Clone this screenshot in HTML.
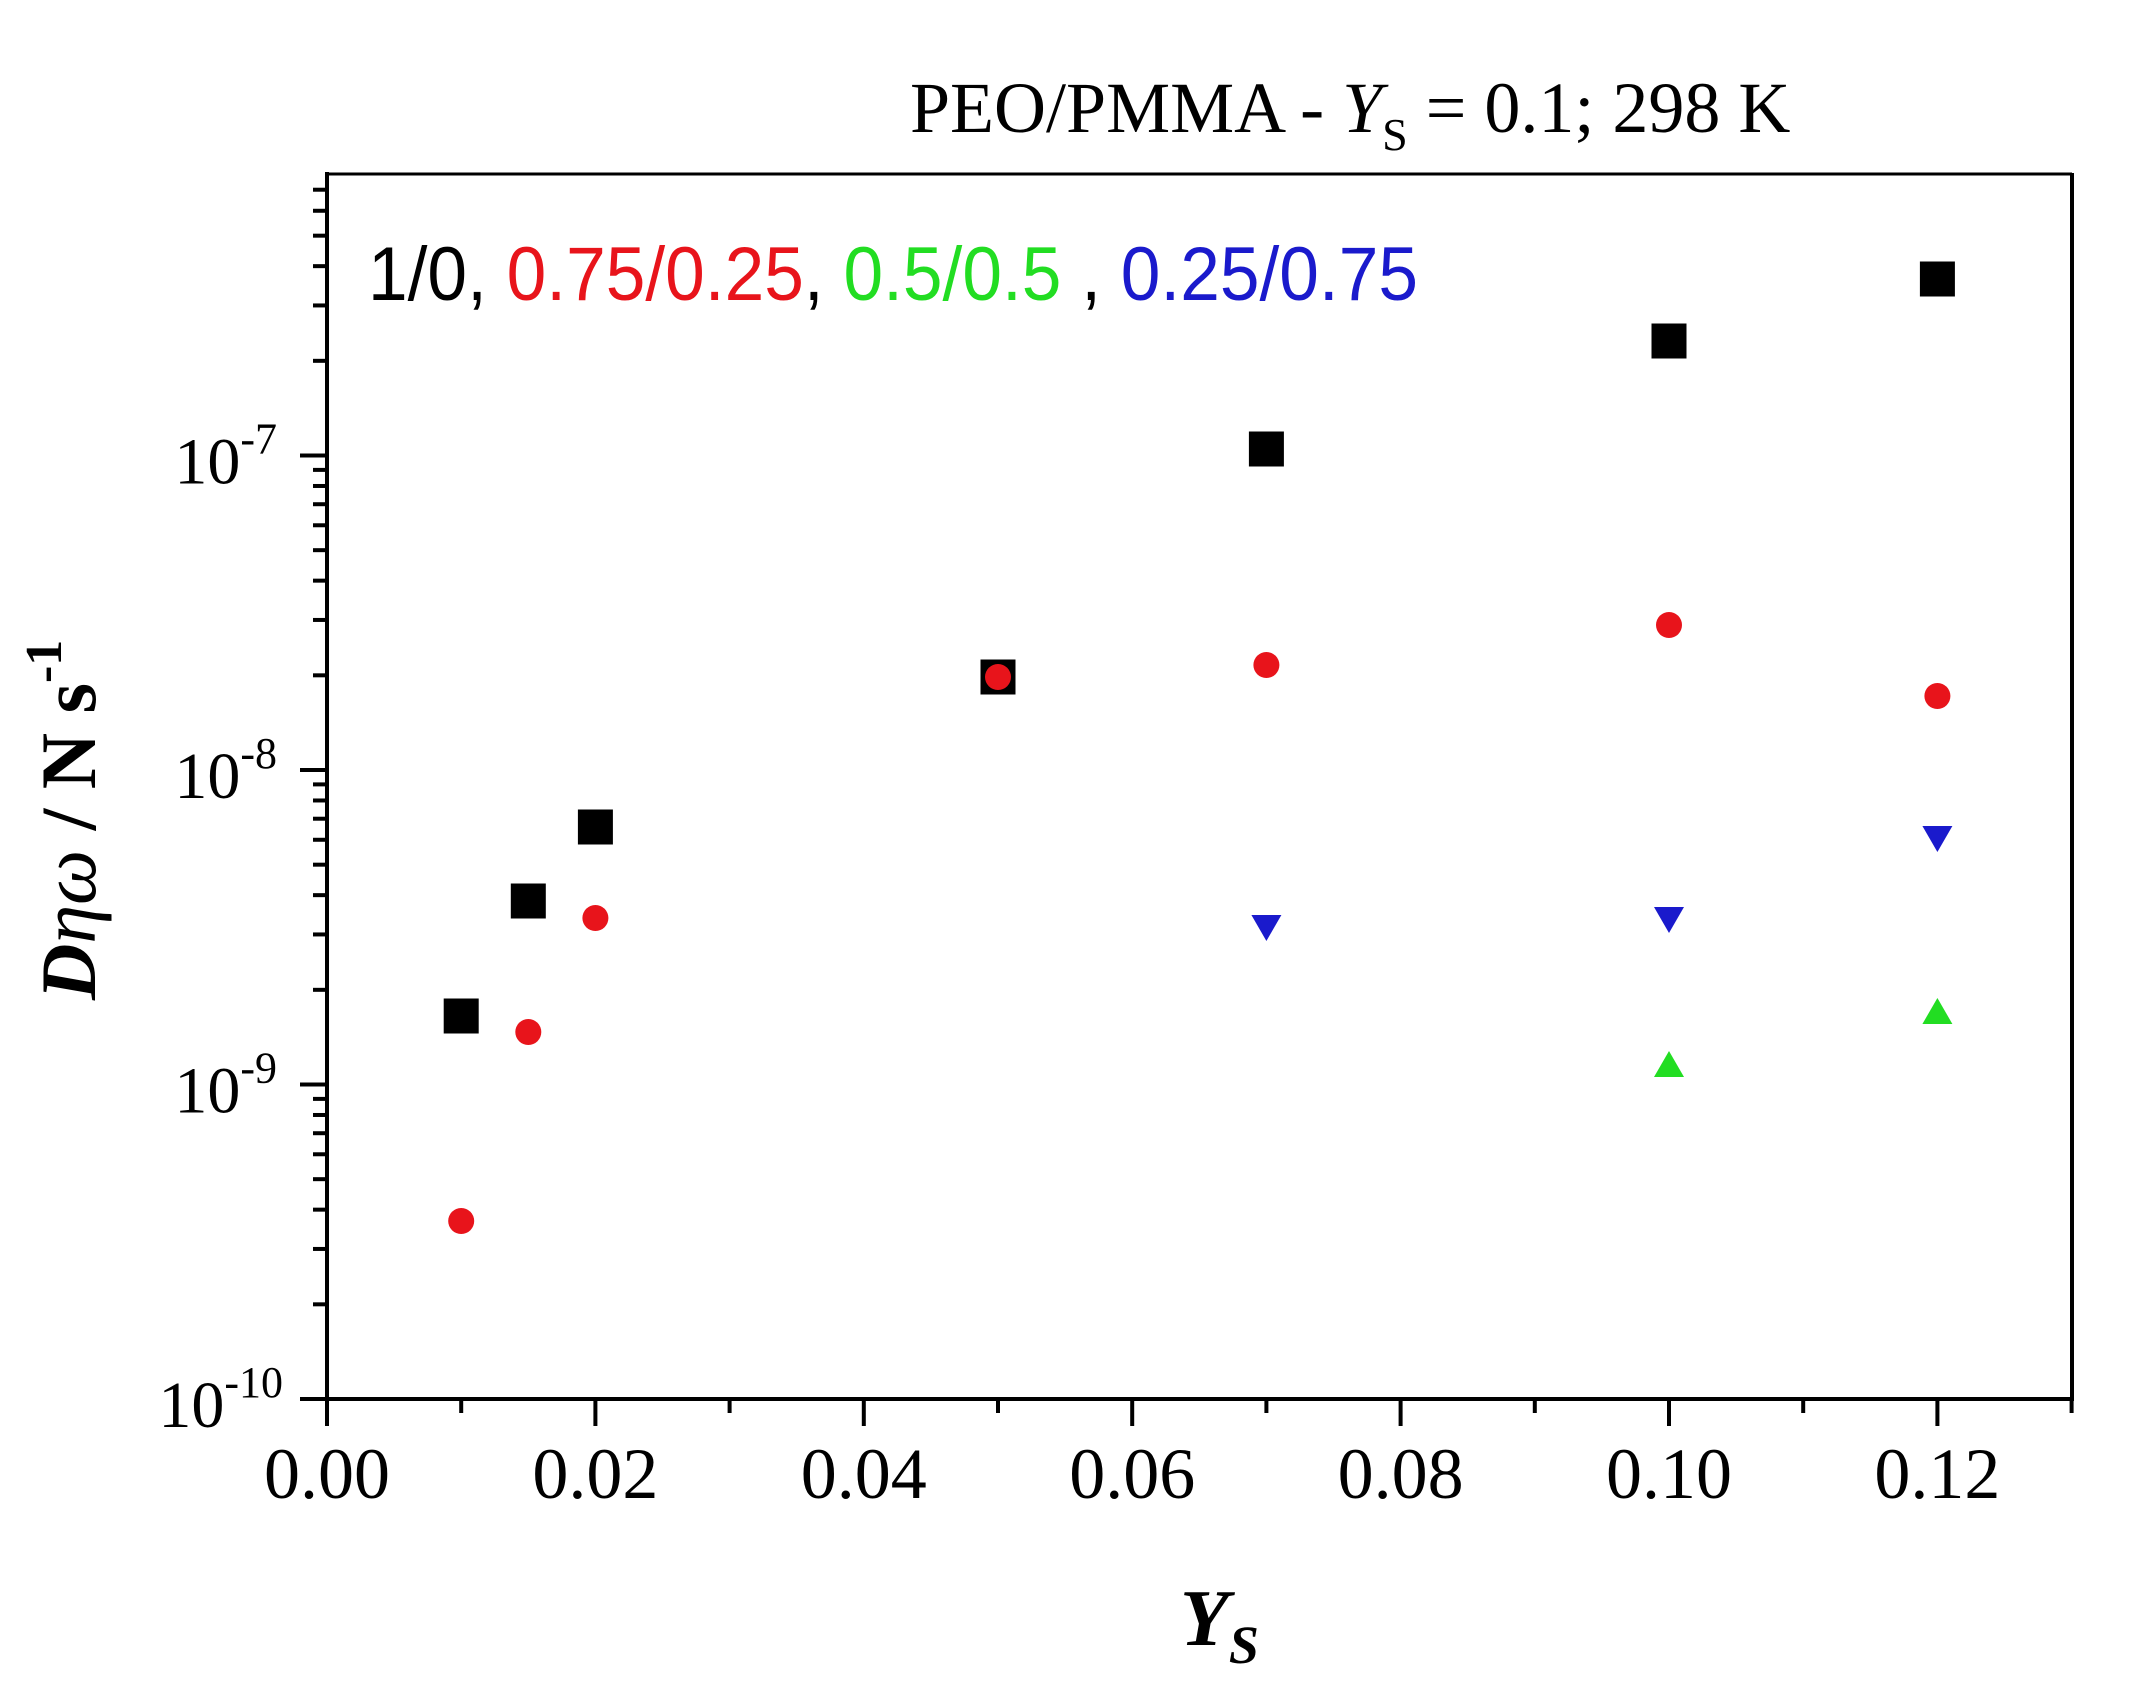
<!DOCTYPE html>
<html><head><meta charset="utf-8"><style>
html,body{margin:0;padding:0;background:#fff;}
svg{display:block;}
text{font-family:"Liberation Serif",serif;}
</style></head><body>
<svg width="2138" height="1699" viewBox="0 0 2138 1699" xmlns="http://www.w3.org/2000/svg">
<rect width="2138" height="1699" fill="#fff"/>
<line x1="327" y1="174" x2="2072" y2="174" stroke="#000" stroke-width="3"/>
<line x1="2072" y1="173" x2="2072" y2="1401" stroke="#000" stroke-width="4"/>
<line x1="327" y1="172" x2="327" y2="1401" stroke="#000" stroke-width="4"/>
<line x1="325" y1="1399" x2="2074" y2="1399" stroke="#000" stroke-width="4"/>
<g stroke="#000" stroke-width="4" id="ticks"></g>
<g id="labels" font-size="66" fill="#000"></g>
<text x="910" y="132" font-size="72">PEO/PMMA - <tspan font-style="italic">Y</tspan><tspan font-size="46" dy="18">S</tspan><tspan dy="-18"> = 0.1; 298 K</tspan></text>
<text x="368" y="300" font-size="76" style="font-family:'Liberation Sans',sans-serif" textLength="1050" lengthAdjust="spacingAndGlyphs"><tspan fill="#000">1/0, </tspan><tspan fill="#e8141b">0.75/0.25</tspan><tspan fill="#000">, </tspan><tspan fill="#22dd22">0.5/0.5</tspan><tspan fill="#000"> , </tspan><tspan fill="#1a1acc">0.25/0.75</tspan></text>
<text transform="translate(95,1000) rotate(-90)" font-size="78" font-weight="bold"><tspan font-style="italic">D</tspan><tspan font-style="italic" font-weight="normal">ηω</tspan><tspan> / N s</tspan><tspan font-size="52" dy="-34">-1</tspan></text>
<text x="1180" y="1645" font-size="80" font-weight="bold" font-style="italic">Y<tspan font-size="54" dy="18">S</tspan></text>
<g id="pts"></g>
</svg>
<script>
(function(){
var NS="http://www.w3.org/2000/svg";
function el(t,a,p){var e=document.createElementNS(NS,t);for(var k in a)e.setAttribute(k,a[k]);p.appendChild(e);return e;}
var tk=document.getElementById('ticks'),lb=document.getElementById('labels'),pts=document.getElementById('pts');
function X(v){return 327+v*13420;}
var bot=1399,dec=314.5;
function Y(v){return bot-(Math.log10(v)+10)*dec;}
for(var i=0;i<=13;i++){var x=327+i*134.2;el('line',{x1:x,y1:1399,x2:x,y2:(i%2==0?1426:1413)},tk);
 if(i%2==0){var t=el('text',{x:x,y:1498,'text-anchor':'middle','font-size':72},lb);t.textContent=(i/100).toFixed(2);}}
for(var d=-10;d<=-7;d++){for(var m=1;m<=9;m++){var v=m*Math.pow(10,d);var y=Y(v);if(y<174)continue;
 el('line',{x1:(m==1?300:313),y1:y,x2:327,y2:y},tk);}
}
[-10,-9,-8,-7].forEach(function(d){var y=Y(Math.pow(10,d));
 var t=el('text',{x:0,y:y+28,'font-size':66},lb);
 var a=el('tspan',{},t);a.textContent='10';
 var b=el('tspan',{'font-size':44,dy:-30},t);b.textContent=String(d);
 var endx=(d==-10?283:277);
 t.setAttribute('x',endx);t.setAttribute('text-anchor','end');});
var sq=[[0.01,1016],[0.015,901],[0.02,827],[0.05,677],[0.07,449],[0.10,341],[0.12,279]];
sq.forEach(function(p){var x=X(p[0]);el('rect',{x:x-17.5,y:p[1]-17.5,width:35,height:35,fill:'#000'},pts);});
var rc=[[0.01,1221],[0.015,1032],[0.02,918],[0.05,677],[0.07,665],[0.10,625],[0.12,696]];
rc.forEach(function(p){el('circle',{cx:X(p[0]),cy:p[1],r:13,fill:'#e8141b'},pts);});
var bl=[[0.07,927],[0.10,919],[0.12,838]];
bl.forEach(function(p){var x=X(p[0]),y=p[1];el('polygon',{points:(x-15)+','+(y-12)+' '+(x+15)+','+(y-12)+' '+x+','+(y+14),fill:'#1a1acc'},pts);});
var gr=[[0.10,1065],[0.12,1012]];
gr.forEach(function(p){var x=X(p[0]),y=p[1];el('polygon',{points:(x-15)+','+(y+12)+' '+(x+15)+','+(y+12)+' '+x+','+(y-14),fill:'#22dd22'},pts);});
})();
</script>
</body></html>
